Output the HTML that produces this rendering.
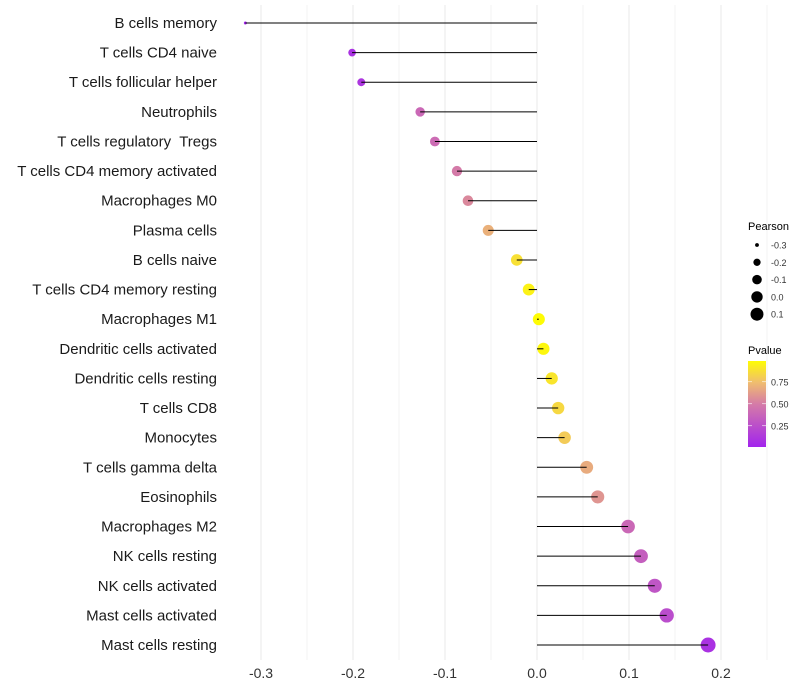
<!DOCTYPE html>
<html><head><meta charset="utf-8"><style>
body{margin:0;background:#fff;font-family:"Liberation Sans",sans-serif;}
svg{display:block}
text{white-space:pre}
</style></head><body>
<svg id="chart" width="800" height="700"></svg>
<script>
const categories=["B cells memory","T cells CD4 naive","T cells follicular helper","Neutrophils","T cells regulatory  Tregs","T cells CD4 memory activated","Macrophages M0","Plasma cells","B cells naive","T cells CD4 memory resting","Macrophages M1","Dendritic cells activated","Dendritic cells resting","T cells CD8","Monocytes","T cells gamma delta","Eosinophils","Macrophages M2","NK cells resting","NK cells activated","Mast cells activated","Mast cells resting"];
const pearson=[-0.317,-0.201,-0.191,-0.127,-0.111,-0.087,-0.075,-0.053,-0.022,-0.009,0.002,0.007,0.016,0.023,0.030,0.054,0.066,0.099,0.113,0.128,0.141,0.186];
const pvalue=[0.02,0.10,0.12,0.40,0.42,0.50,0.55,0.70,0.88,0.95,0.99,0.97,0.90,0.85,0.80,0.68,0.60,0.40,0.35,0.30,0.25,0.10];
const xTicks=[-0.3,-0.2,-0.1,0.0,0.1,0.2];
const xTickLabels=["-0.3","-0.2","-0.1","0.0","0.1","0.2"];
const sizeLegend=[-0.3,-0.2,-0.1,0.0,0.1];
const pLegendTicks=[0.25,0.5,0.75];

const NS="http://www.w3.org/2000/svg";
const svg=document.getElementById('chart');
function mk(t,a,p){const e=document.createElementNS(NS,t);for(const k in a)e.setAttribute(k,a[k]);(p||svg).appendChild(e);return e;}
const x=v=>537+v*920;
const y=i=>23+i*29.62;
const r=v=>Math.sqrt(Math.max(1,36+106.5*v));
function col(p){
  const stops=[[0,[160,32,240]],[0.5,[212,122,168]],[0.75,[240,190,110]],[1,[255,255,0]]];
  for(let i=1;i<stops.length;i++){if(p<=stops[i][0]){const a=stops[i-1],b=stops[i];const t=(p-a[0])/(b[0]-a[0]);return 'rgb('+a[1].map((c,k)=>Math.round(c+(b[1][k]-c)*t)).join(',')+')';}}
  return 'rgb(255,255,0)';
}
const grid=mk('g',{});


for(let v=-0.35;v<=0.25;v+=0.05){const gx=x(Math.round(v*100)/100);if(gx<228||gx>790)continue;
 mk('line',{x1:gx,x2:gx,y1:5,y2:660,stroke:'#ebebeb','stroke-width':Math.abs(Math.round(v*100)%10)===5?0.6:1.1},grid);}
xTicks.forEach((v,i)=>{const t=mk('text',{x:x(v),y:678,'text-anchor':'middle','font-size':14,fill:'#333'});t.textContent=xTickLabels[i];
 
 });
categories.forEach((c,i)=>{
 const lbl=mk('text',{x:217,y:y(i)+5,'text-anchor':'end','font-size':15,fill:'#1a1a1a'});lbl.textContent=c;
 
 
 const pt=mk('circle',{cx:x(pearson[i]),cy:y(i),r:r(pearson[i]),fill:col(pvalue[i])});
 
 
 const ln=mk('line',{x1:x(0),x2:x(pearson[i]),y1:y(i),y2:y(i),stroke:'#000','stroke-width':1});
 
 
});
const lt=mk('text',{x:748,y:230,'font-size':11,fill:'#000'});lt.textContent='Pearson';


sizeLegend.forEach((v,i)=>{const cy=245+i*17.3;
 const c=mk('circle',{cx:757,cy:cy,r:r(v)*0.95,fill:'#000'});
 
 
 const t=mk('text',{x:771,y:cy+3.5,'font-size':9,fill:'#333'});t.textContent=v.toFixed(1);
 
 });
const pt2=mk('text',{x:748,y:354,'font-size':11,fill:'#000'});pt2.textContent='Pvalue';


const defs=mk('defs',{});const lg=mk('linearGradient',{id:'pg',x1:0,y1:1,x2:0,y2:0},defs);
[0,0.25,0.5,0.75,1].forEach(s=>mk('stop',{offset:s,'stop-color':col(0.02+s*0.97)},lg));
const bar=mk('rect',{x:748,y:361,width:18,height:86,fill:'url(#pg)'});


const py=p=>446-(p-0.02)*88;
pLegendTicks.forEach(p=>{mk('line',{x1:748,x2:752,y1:py(p),y2:py(p),stroke:'#fff','stroke-width':0.6});mk('line',{x1:762,x2:766,y1:py(p),y2:py(p),stroke:'#fff','stroke-width':0.6});
 const t=mk('text',{x:771,y:py(p)+3.5,'font-size':9,fill:'#333'});t.textContent=p.toFixed(2);
 
 });
</script>
</body></html>
